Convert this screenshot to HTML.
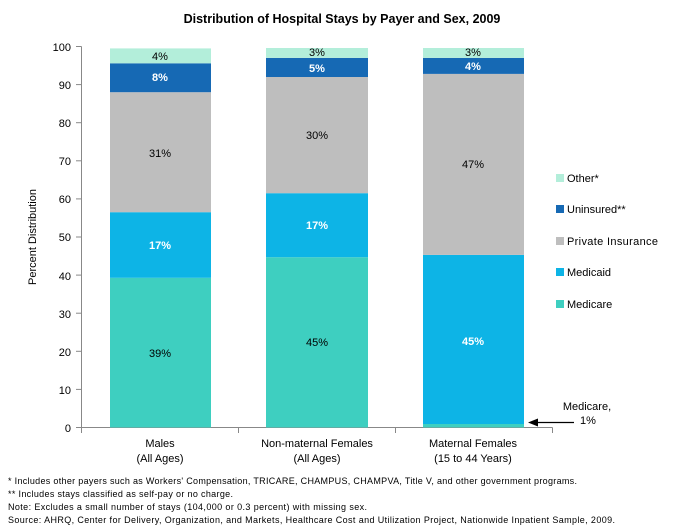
<!DOCTYPE html>
<html><head><meta charset="utf-8"><style>body{margin:0;background:#fff}svg{display:block}text{font-family:"Liberation Sans",sans-serif}</style></head><body>
<svg width="685" height="529" xmlns="http://www.w3.org/2000/svg">
<text x="342" y="23" font-size="12.5" font-weight="bold" text-anchor="middle" fill="#000">Distribution of Hospital Stays by Payer and Sex, 2009</text>
<g font-size="11" fill="#000" text-anchor="end">
<text x="71" y="51">100</text><text x="71" y="89">90</text><text x="71" y="127">80</text><text x="71" y="165">70</text><text x="71" y="203">60</text><text x="71" y="241">50</text><text x="71" y="280">40</text><text x="71" y="318">30</text><text x="71" y="356">20</text><text x="71" y="394">10</text><text x="71" y="432">0</text>
</g>
<text transform="translate(36,237) rotate(-90)" font-size="11" text-anchor="middle">Percent Distribution</text>
<g stroke="#888" stroke-width="1">
<line x1="81.5" y1="46.5" x2="81.5" y2="427.5"/>
<line x1="76" y1="46.5" x2="81.5" y2="46.5"/><line x1="76" y1="84.6" x2="81.5" y2="84.6"/><line x1="76" y1="122.7" x2="81.5" y2="122.7"/><line x1="76" y1="160.8" x2="81.5" y2="160.8"/><line x1="76" y1="198.9" x2="81.5" y2="198.9"/><line x1="76" y1="237" x2="81.5" y2="237"/><line x1="76" y1="275.1" x2="81.5" y2="275.1"/><line x1="76" y1="313.2" x2="81.5" y2="313.2"/><line x1="76" y1="351.3" x2="81.5" y2="351.3"/><line x1="76" y1="389.4" x2="81.5" y2="389.4"/><line x1="76" y1="427.5" x2="81.5" y2="427.5"/>
<line x1="81" y1="427.5" x2="552.5" y2="427.5"/>
<line x1="81.5" y1="427.5" x2="81.5" y2="433"/><line x1="238.5" y1="427.5" x2="238.5" y2="433"/><line x1="395.5" y1="427.5" x2="395.5" y2="433"/><line x1="552.5" y1="427.5" x2="552.5" y2="433"/>
</g>
<rect x="110" y="277.8" width="101" height="149.7" fill="#3ECFC0"/>
<rect x="110" y="212.2" width="101" height="65.6" fill="#0DB4E6"/>
<rect x="110" y="92.2" width="101" height="120" fill="#BEBEBE"/>
<rect x="110" y="63.3" width="101" height="28.9" fill="#1669B4"/>
<rect x="110" y="48.4" width="101" height="14.9" fill="#B3EEDA"/>
<rect x="266" y="257.2" width="102" height="170.3" fill="#3ECFC0"/>
<rect x="266" y="193.2" width="102" height="64" fill="#0DB4E6"/>
<rect x="266" y="77" width="102" height="116.2" fill="#BEBEBE"/>
<rect x="266" y="57.9" width="102" height="19.1" fill="#1669B4"/>
<rect x="266" y="48" width="102" height="9.9" fill="#B3EEDA"/>
<rect x="423" y="424" width="101" height="3.5" fill="#3ECFC0"/>
<rect x="423" y="254.9" width="101" height="169.1" fill="#0DB4E6"/>
<rect x="423" y="73.9" width="101" height="181" fill="#BEBEBE"/>
<rect x="423" y="57.9" width="101" height="16" fill="#1669B4"/>
<rect x="423" y="48" width="101" height="9.9" fill="#B3EEDA"/>
<g font-size="11" text-anchor="middle" fill="#000">
<text x="160" y="60">4%</text><text x="160" y="157">31%</text><text x="160" y="357">39%</text>
<text x="317" y="56">3%</text><text x="317" y="139">30%</text><text x="317" y="346">45%</text>
<text x="473" y="56">3%</text><text x="473" y="168">47%</text>
</g>
<g font-size="11" text-anchor="middle" fill="#fff" font-weight="bold">
<text x="160" y="81">8%</text><text x="160" y="249">17%</text>
<text x="317" y="72">5%</text><text x="317" y="229">17%</text>
<text x="473" y="70">4%</text><text x="473" y="345">45%</text>
</g>
<g font-size="11" fill="#000">
<rect x="556" y="174" width="8" height="8" fill="#B3EEDA"/><text x="567" y="182">Other*</text>
<rect x="556" y="205" width="8" height="8" fill="#1669B4"/><text x="567" y="213">Uninsured**</text>
<rect x="556" y="237" width="8" height="8" fill="#BEBEBE"/><text x="567" y="245" textLength="91">Private Insurance</text>
<rect x="556" y="268" width="8" height="8" fill="#0DB4E6"/><text x="567" y="276">Medicaid</text>
<rect x="556" y="300" width="8" height="8" fill="#3ECFC0"/><text x="567" y="308">Medicare</text>
<text x="587" y="410" text-anchor="middle">Medicare,</text>
<text x="588" y="424" text-anchor="middle">1%</text>
</g>
<line x1="574" y1="422.5" x2="536" y2="422.5" stroke="#000" stroke-width="1.2"/>
<polygon points="528,422.5 538,418.5 538,426.5" fill="#000"/>
<g font-size="11" text-anchor="middle" fill="#000">
<text x="160" y="447">Males</text><text x="160" y="462">(All Ages)</text>
<text x="317" y="447">Non-maternal Females</text><text x="317" y="462">(All Ages)</text>
<text x="473" y="447">Maternal Females</text><text x="473" y="462">(15 to 44 Years)</text>
</g>
<g font-size="9" fill="#000">
<text x="8" y="484" textLength="569" lengthAdjust="spacing">* Includes other payers such as Workers' Compensation, TRICARE, CHAMPUS, CHAMPVA, Title V, and other government programs.</text>
<text x="8" y="497" textLength="225" lengthAdjust="spacing">** Includes stays classified as self-pay or no charge.</text>
<text x="8" y="510" textLength="359" lengthAdjust="spacing">Note: Excludes a small number of stays (104,000 or 0.3 percent) with missing sex.</text>
<text x="8" y="523" textLength="607" lengthAdjust="spacing">Source: AHRQ, Center for Delivery, Organization, and Markets, Healthcare Cost and Utilization Project, Nationwide Inpatient Sample, 2009.</text>
</g>
</svg>
</body></html>
